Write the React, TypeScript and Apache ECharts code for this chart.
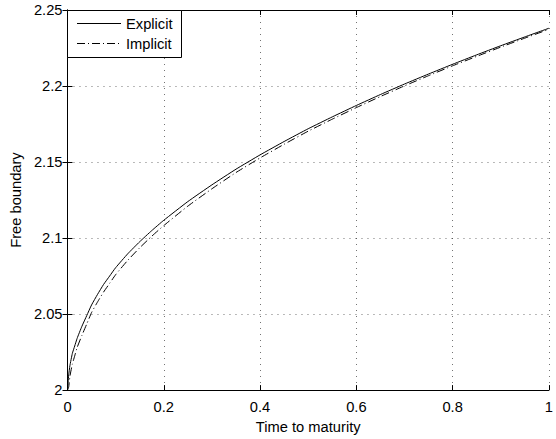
import React, { useEffect, useRef } from "react";
import * as echarts from "echarts";

const timeToMaturity = [0, 0.0025, 0.005, 0.01, 0.015, 0.02, 0.03, 0.04, 0.05, 0.0625, 0.075, 0.0875, 0.1, 0.125, 0.15, 0.175, 0.2, 0.25, 0.3, 0.35, 0.4, 0.45, 0.5, 0.55, 0.6, 0.65, 0.7, 0.75, 0.8, 0.85, 0.9, 0.95, 1.0];
const explicitValues = [2.0, 2.01, 2.016, 2.024, 2.029, 2.034, 2.042, 2.049, 2.056, 2.063, 2.0695, 2.075, 2.0805, 2.0896, 2.0976, 2.1049, 2.1117, 2.124, 2.135, 2.1453, 2.1547, 2.1635, 2.1719, 2.1797, 2.1872, 2.1944, 2.2013, 2.2079, 2.2143, 2.2205, 2.2265, 2.2323, 2.238];
const implicitValues = [2.0, 2.002, 2.009, 2.017, 2.0225, 2.028, 2.036, 2.0435, 2.051, 2.058, 2.0645, 2.0702, 2.0759, 2.0853, 2.0936, 2.1012, 2.1082, 2.121, 2.1324, 2.1431, 2.1527, 2.1617, 2.1703, 2.1782, 2.1858, 2.1931, 2.2001, 2.2068, 2.2133, 2.2195, 2.2256, 2.2315, 2.2373];
const seriesNames = ["Explicit", "Implicit"];

const FONT = "Liberation Sans";
const FS = 14.7;

export default function App() {
  const ref = useRef<HTMLDivElement>(null);
  useEffect(() => {
    if (!ref.current) return;
    const chart = echarts.init(ref.current, null, { renderer: "svg" });
    const gridLine = { show: true, lineStyle: { color: "#000", type: [1, 5], width: 1, opacity: 0.55 } };
    const tick = { show: true, inside: true, length: 5, lineStyle: { color: "#000" } };
    const axisLine = { show: true, lineStyle: { color: "#000", width: 1 } };
    const dashDot = [8, 3, 1, 3];
    chart.setOption({
      animation: false,
      textStyle: { fontFamily: FONT },
      grid: { left: 67, right: 1, top: 10, bottom: 47, containLabel: false },
      graphic: [
        {
          type: "rect",
          z: 100,
          shape: { x: 67.5, y: 10.5, width: 114, height: 47 },
          style: { fill: "#fff", stroke: "#000", lineWidth: 1 },
        },
        {
          type: "line",
          z: 101,
          shape: { x1: 77, y1: 23.5, x2: 121, y2: 23.5 },
          style: { stroke: "#000", lineWidth: 1 },
        },
        {
          type: "line",
          z: 101,
          shape: { x1: 77, y1: 43.5, x2: 121, y2: 43.5 },
          style: { stroke: "#000", lineWidth: 1, lineDash: dashDot },
        },
        {
          type: "text",
          z: 101,
          x: 126,
          y: 24,
          style: { text: seriesNames[0], fill: "#000", font: `${FS}px "${FONT}"`, verticalAlign: "middle" },
        },
        {
          type: "text",
          z: 101,
          x: 126,
          y: 44,
          style: { text: seriesNames[1], fill: "#000", font: `${FS}px "${FONT}"`, verticalAlign: "middle" },
        },
      ],
      xAxis: [
        {
          type: "value",
          min: 0,
          max: 1,
          interval: 0.2,
          name: "Time to maturity",
          nameLocation: "middle",
          nameGap: 27,
          nameTextStyle: { fontFamily: FONT, fontSize: FS, color: "#000" },
          axisLine,
          axisTick: tick,
          axisLabel: { color: "#000", fontFamily: FONT, fontSize: FS, margin: 9, alignMaxLabel: "center" },
          splitLine: gridLine,
        },
        {
          type: "value",
          position: "top",
          min: 0,
          max: 1,
          interval: 0.2,
          axisLine,
          axisTick: tick,
          axisLabel: { show: false },
          splitLine: { show: false },
        },
      ],
      yAxis: [
        {
          type: "value",
          min: 2,
          max: 2.25,
          interval: 0.05,
          name: "Free boundary",
          nameLocation: "middle",
          nameGap: 40,
          nameTextStyle: { fontFamily: FONT, fontSize: FS, color: "#000" },
          axisLine,
          axisTick: tick,
          axisLabel: { color: "#000", fontFamily: FONT, fontSize: FS, margin: 5 },
          splitLine: gridLine,
        },
        {
          type: "value",
          position: "right",
          min: 2,
          max: 2.25,
          interval: 0.05,
          axisLine,
          axisTick: tick,
          axisLabel: { show: false },
          splitLine: { show: false },
        },
      ],
      series: [
        {
          name: seriesNames[0],
          type: "line",
          symbol: "none",
          smooth: 0.15,
          data: timeToMaturity.map((t, i) => [t, explicitValues[i]]),
          lineStyle: { color: "#000", width: 1, type: "solid" },
        },
        {
          name: seriesNames[1],
          type: "line",
          symbol: "none",
          smooth: 0.15,
          data: timeToMaturity.map((t, i) => [t, implicitValues[i]]),
          lineStyle: { color: "#000", width: 1, type: dashDot },
        },
      ],
    });
    return () => chart.dispose();
  }, []);
  return <div ref={ref} style={{ width: 556, height: 439, position: "absolute", left: 0, top: 0, background: "#fff" }} />;
}
